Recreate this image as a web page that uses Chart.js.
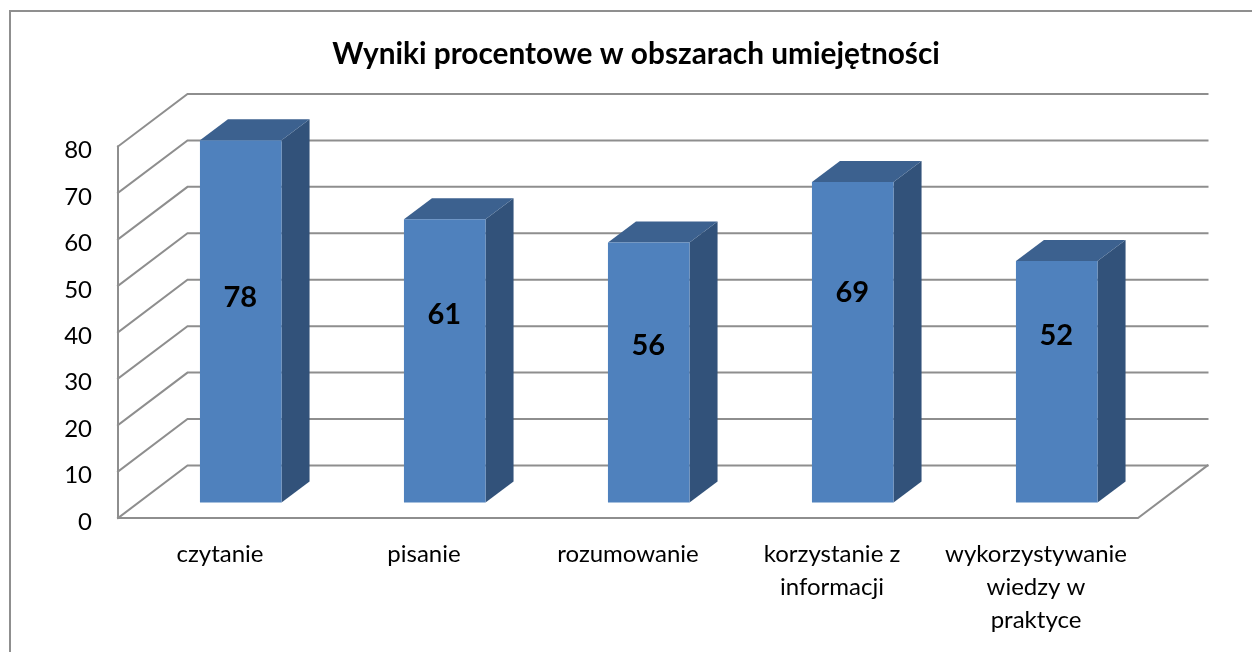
<!DOCTYPE html>
<html><head><meta charset="utf-8">
<style>html,body{margin:0;padding:0;background:#fff}canvas{display:block}</style>
<script src="https://cdn.jsdelivr.net/npm/chart.js@4"></script>
</head><body>
<div style="width:1252px;height:652px"><canvas id="c" width="1252" height="652"></canvas></div>
<script>
const categories = ["czytanie","pisanie","rozumowanie",["korzystanie z","informacji"],["wykorzystywanie","wiedzy w","praktyce"]];
const values = [78,61,56,69,52];
const yTicksMax = 80;
const yTicksStep = 10;
const titleText = "Wyniki procentowe w obszarach umiejętności";

const font = "Lato, Carlito, Calibri, sans-serif";
const wall = {dx:69.5, dy:-52.5};
const barShift = {dx:20.75, dy:-15.5};
const barDepth = {dx:28, dy:-21};
const labelNudge = [-25,-47.5,-28,-51,-47.5];
const gridColor = "#8e8e8e";

const frame = {
  id:"frame",
  beforeDraw(chart){
    const ctx = chart.ctx;
    ctx.save();
    ctx.fillStyle="#fff"; ctx.fillRect(0,0,chart.width,chart.height);
    ctx.strokeStyle="#8f8f8f"; ctx.lineWidth=2;
    ctx.beginPath();
    ctx.moveTo(chart.width,11);
    ctx.lineTo(10,11);
    ctx.lineTo(10,chart.height);
    ctx.stroke();
    ctx.restore();
    chart.titleBlock.left=20;
    chart.titleBlock.right=1252;
  }
};
const depth3d = {
  id:"depth3d",
  beforeDatasetsDraw(chart){
    const ctx = chart.ctx, y = chart.scales.y, a = chart.chartArea;
    ctx.save();
    ctx.strokeStyle=gridColor; ctx.lineWidth=2; ctx.lineCap="square";
    y.ticks.forEach(t=>{
      const p = y.getPixelForValue(t.value);
      ctx.beginPath();
      ctx.moveTo(a.left,p);
      ctx.lineTo(a.left+wall.dx,p+wall.dy);
      ctx.lineTo(a.right+wall.dx,p+wall.dy);
      ctx.stroke();
    });
    ctx.beginPath();
    ctx.moveTo(a.left,y.getPixelForValue(yTicksMax));
    ctx.lineTo(a.left,a.bottom);
    ctx.lineTo(a.right,a.bottom);
    ctx.lineTo(a.right+wall.dx,a.bottom+wall.dy);
    ctx.stroke();
    ctx.translate(barShift.dx,barShift.dy);
    chart.getDatasetMeta(0).data.forEach(b=>{
      const l=b.x-b.width/2, r=b.x+b.width/2, t=b.y, bt=b.base;
      ctx.fillStyle="#32527a";
      ctx.beginPath();
      ctx.moveTo(r,t);ctx.lineTo(r+barDepth.dx,t+barDepth.dy);
      ctx.lineTo(r+barDepth.dx,bt+barDepth.dy);ctx.lineTo(r,bt);ctx.closePath();ctx.fill();
      ctx.fillStyle="#3c618f";
      ctx.beginPath();
      ctx.moveTo(l,t);ctx.lineTo(l+barDepth.dx,t+barDepth.dy);
      ctx.lineTo(r+barDepth.dx,t+barDepth.dy);ctx.lineTo(r,t);ctx.closePath();ctx.fill();
    });
  },
  afterDatasetsDraw(chart){
    const ctx = chart.ctx;
    ctx.fillStyle="#000";
    ctx.font="bold 29px "+font;
    ctx.textAlign="center"; ctx.textBaseline="middle";
    chart.getDatasetMeta(0).data.forEach((b,i)=>{
      ctx.fillText(String(values[i]), b.x-0.5, (b.y+b.base)/2+labelNudge[i]+1);
    });
    ctx.restore();
  }
};
new Chart(document.getElementById("c"),{
  type:"bar",
  data:{labels:categories,datasets:[{
    data:values,backgroundColor:"#4f81bd",borderWidth:0,
    categoryPercentage:1,barPercentage:0.4,clip:false
  }]},
  options:{
    responsive:false,animation:false,
    layout:{padding:{left:20,right:114,top:0,bottom:0}},
    plugins:{
      legend:{display:false},tooltip:{enabled:false},
      title:{display:true,text:titleText,color:"#000",
        font:{family:font,size:29.8,weight:"bold",lineHeight:1.2},
        padding:{top:37,bottom:73.7}}
    },
    scales:{
      x:{
        grid:{display:false},border:{display:false},
        afterFit(s){s.height=134;},
        ticks:{color:"#000",font:{family:font,size:24,lineHeight:1.375},padding:12,maxRotation:0,minRotation:0,autoSkip:false}
      },
      y:{
        min:0,max:yTicksMax,
        grid:{display:false},border:{display:false},
        afterFit(s){s.width=98;},
        ticks:{stepSize:yTicksStep,color:"#000",font:{family:font,size:24},padding:18,labelOffset:4}
      }
    }
  },
  plugins:[frame,depth3d]
});
</script>
</body></html>
